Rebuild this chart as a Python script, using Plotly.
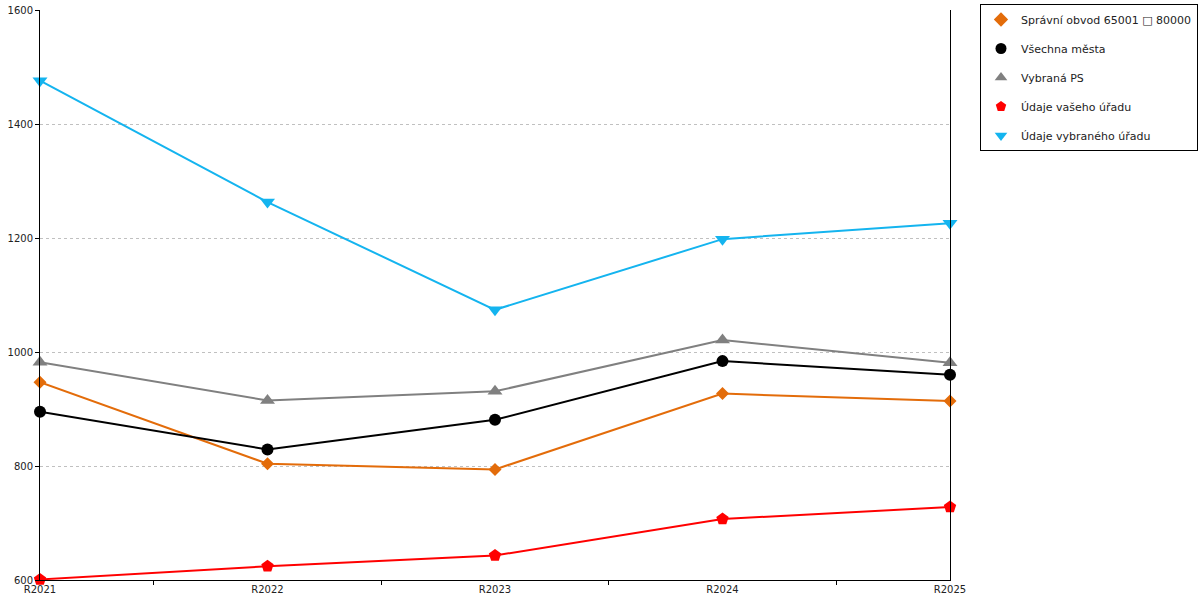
import plotly.graph_objects as go

years = ["R2021", "R2022", "R2023", "R2024", "R2025"]

spravni_obvod = [947, 804, 794, 927, 914]
vsechna_mesta = [895, 829, 881, 984, 960]
vybrana_ps = [982, 915, 931, 1021, 981]
vas_urad = [601, 624, 643, 707, 728]
vybrany_urad = [1476, 1263, 1074, 1198, 1226]

series = [
    ("Správní obvod 65001 □ 80000", spravni_obvod, "#e36c0a", "diamond", 10),
    ("Všechna města", vsechna_mesta, "#000000", "circle", 12),
    ("Vybraná PS", vybrana_ps, "#808080", "triangle-up", 13),
    ("Údaje vašeho úřadu", vas_urad, "#ff0000", "pentagon", 13),
    ("Údaje vybraného úřadu", vybrany_urad, "#14b4ef", "triangle-down", 13),
]

xpos = list(range(len(years)))

fig = go.Figure()
for i, (name, vals, color, sym, size) in enumerate(series):
    fig.add_trace(go.Scatter(
        x=xpos, y=vals, name=name, mode="lines+markers",
        line=dict(color=color, width=2),
        marker=dict(symbol=sym, size=size, color=color),
        showlegend=False, cliponaxis=False,
    ))
# legend entries show only the marker, like the original
for i, (name, vals, color, sym, size) in enumerate(series):
    fig.add_trace(go.Scatter(
        x=[None], y=[None], name=name, mode="markers",
        marker=dict(symbol=sym, size=11, color=color),
        legendgroup="g%d" % i,
    ))

W, H = 1200, 600
fig.update_layout(
    width=W, height=H,
    margin=dict(l=40, r=W - 40 - 910, t=10, b=H - 10 - 570, autoexpand=False),
    plot_bgcolor="white", paper_bgcolor="white",
    font=dict(family="DejaVu Sans", size=10, color="#222"),
    showlegend=True,
    legend=dict(
        x=(980 - 40) / 910, y=1 + 6 / 570, xanchor="left", yanchor="top",
        bordercolor="black", borderwidth=1, bgcolor="white",
        tracegroupgap=10, itemwidth=30, font=dict(size=11),
    ),
    xaxis=dict(
        range=[0, 4], tickvals=xpos, ticktext=years, ticks="",
        showline=True, linecolor="black", linewidth=1, showgrid=False,
        zeroline=False, tickfont=dict(size=10),
        minor=dict(tickvals=[0.5, 1.5, 2.5, 3.5], ticks="outside", ticklen=4,
                   tickcolor="black"),
    ),
    yaxis=dict(
        range=[600, 1600], dtick=200, ticks="outside", ticklen=4,
        tickcolor="black", showline=True, linecolor="black", linewidth=1,
        mirror=True, showgrid=True, gridcolor="#c0c0c0", griddash="dot",
        zeroline=False, tickfont=dict(size=10), ticklabeloverflow="allow",
    ),
    xaxis2=dict(
        overlaying="x", anchor="y", range=[0, 4], side="bottom",
        tickvals=[0.5, 1.5, 2.5, 3.5], ticks="inside", ticklen=4,
        tickcolor="black", showticklabels=False, showgrid=False,
        zeroline=False, showline=False,
    ),
    yaxis2=dict(
        overlaying="y", anchor="x", range=[600, 1600], side="left",
        dtick=200, ticks="inside", ticklen=4, tickcolor="black",
        showticklabels=False, showgrid=False, zeroline=False, showline=False,
    ),
)

# drop the browser's default 8px body margin so the chart sits at 0,0
fig.write_html("out.html", config={"displayModeBar": False},
               post_script="document.body.style.margin='0';")
